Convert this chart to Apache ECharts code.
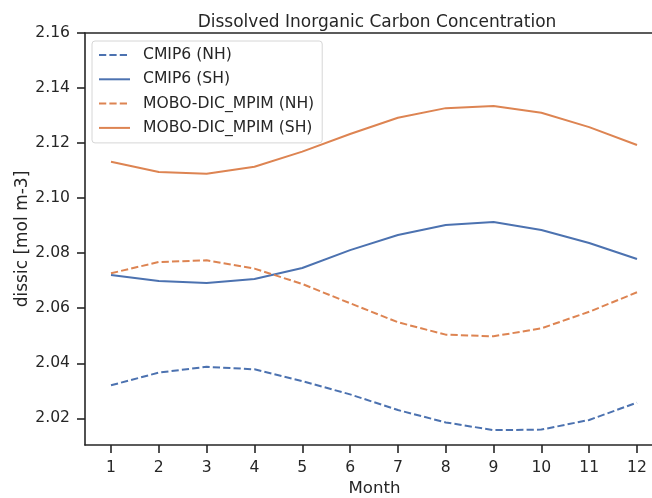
<!DOCTYPE html>
<html>
<head>
<meta charset="utf-8">
<script src="https://cdn.jsdelivr.net/npm/echarts@6/dist/echarts.min.js"></script>
<style>
html,body{margin:0;padding:0;background:#fff;}
#chart{width:652px;height:498px;}
</style>
</head>
<body>
<div id="chart"></div>
<script>
const months = [1,2,3,4,5,6,7,8,9,10,11,12];
const cmip6NH = [2.0320,2.0366,2.0387,2.0378,2.0335,2.0287,2.0230,2.0185,2.0157,2.0159,2.0194,2.0257];
const cmip6SH = [2.0721,2.0699,2.0692,2.0706,2.0746,2.0811,2.0866,2.0902,2.0913,2.0884,2.0837,2.0779];
const moboNH  = [2.0727,2.0768,2.0774,2.0744,2.0688,2.0618,2.0549,2.0504,2.0498,2.0527,2.0587,2.0658];
const moboSH  = [2.1132,2.1095,2.1089,2.1114,2.1169,2.1233,2.1292,2.1327,2.1335,2.1310,2.1258,2.1193];
const yTicks = [2.02,2.04,2.06,2.08,2.10,2.12,2.14,2.16];
const xTicks = months;
const seriesNames = ['CMIP6 (NH)','CMIP6 (SH)','MOBO-DIC_MPIM (NH)','MOBO-DIC_MPIM (SH)'];

const BLUE = '#4C72B0', ORANGE = '#DD8452', INK = '#262626';
const FONT = 'DejaVu Sans';
const DASH = [7.25, 3.13];

function pairs(arr){ return months.map((m,i)=>[m, arr[i]]); }
function mk(name, arr, color, dashed){
  return {
    name: name, type: 'line', data: pairs(arr), xAxisIndex: 0,
    symbol: 'none', showSymbol: false, silent: true, animation: false,
    lineStyle: {color: color, width: 2, type: dashed ? DASH : 'solid'},
    itemStyle: {color: color}
  };
}

const chart = echarts.init(document.getElementById('chart'), null, {renderer: 'canvas'});
chart.setOption({
  animation: false,
  backgroundColor: '#ffffff',
  textStyle: {fontFamily: FONT, color: INK},
  title: {
    text: 'Dissolved Inorganic Carbon Concentration',
    left: 372, top: 9, textAlign: 'center',
    textStyle: {fontFamily: FONT, fontSize: 17, fontWeight: 'normal', color: INK}
  },
  legend: {
    data: seriesNames,
    orient: 'vertical',
    left: 92, top: 41,
    padding: [6, 8, 7, 6],
    itemWidth: 31, itemHeight: 15, itemGap: 8.3,
    backgroundColor: '#ffffff',
    borderColor: '#d6d6d6', borderWidth: 1, borderRadius: 3,
    itemStyle: {opacity: 0},
    textStyle: {fontFamily: FONT, fontSize: 15.6, color: INK, padding: [0,0,0,8]}
  },
  grid: {left: 85, right: 0, top: 33, bottom: 53, containLabel: false, outerBoundsMode: 'none'},
  xAxis: [{
    type: 'value', min: 0.4563, max: 12.3137, position: 'bottom',
    name: 'Month', nameLocation: 'middle', nameGap: 35, nameMoveOverlap: false,
    nameTextStyle: {fontFamily: FONT, fontSize: 16.6, color: INK, padding: [0,0,0,12]},
    axisLine: {show: true, lineStyle: {color: INK, width: 1.6}},
    axisTick: {show: true, length: 8, inside: false, customValues: xTicks, lineStyle: {color: INK, width: 1.6}},
    axisLabel: {show: true, customValues: xTicks, margin: 14.5, fontFamily: FONT, fontSize: 15.6, color: INK},
    splitLine: {show: false}
  },{
    type: 'value', min: 0.4563, max: 12.3137, position: 'top',
    axisLine: {show: true, onZero: false, lineStyle: {color: INK, width: 1.6}},
    axisTick: {show: false}, axisLabel: {show: false}, splitLine: {show: false}
  }],
  yAxis: {
    type: 'value', min: 2.0103, max: 2.16,
    name: 'dissic [mol m-3]', nameLocation: 'middle', nameGap: 54, nameMoveOverlap: false,
    nameTextStyle: {fontFamily: FONT, fontSize: 17, color: INK},
    axisLine: {show: true, lineStyle: {color: INK, width: 1.6}},
    axisTick: {show: true, length: 8, inside: false, customValues: yTicks, lineStyle: {color: INK, width: 1.6}},
    axisLabel: {show: true, customValues: yTicks, margin: 15, fontFamily: FONT, fontSize: 15.6, color: INK,
      formatter: v => Number(v).toFixed(2)},
    splitLine: {show: false}
  },
  series: [
    mk(seriesNames[0], cmip6NH, BLUE, true),
    mk(seriesNames[1], cmip6SH, BLUE, false),
    mk(seriesNames[2], moboNH, ORANGE, true),
    mk(seriesNames[3], moboSH, ORANGE, false)
  ]
});
</script>
</body>
</html>
